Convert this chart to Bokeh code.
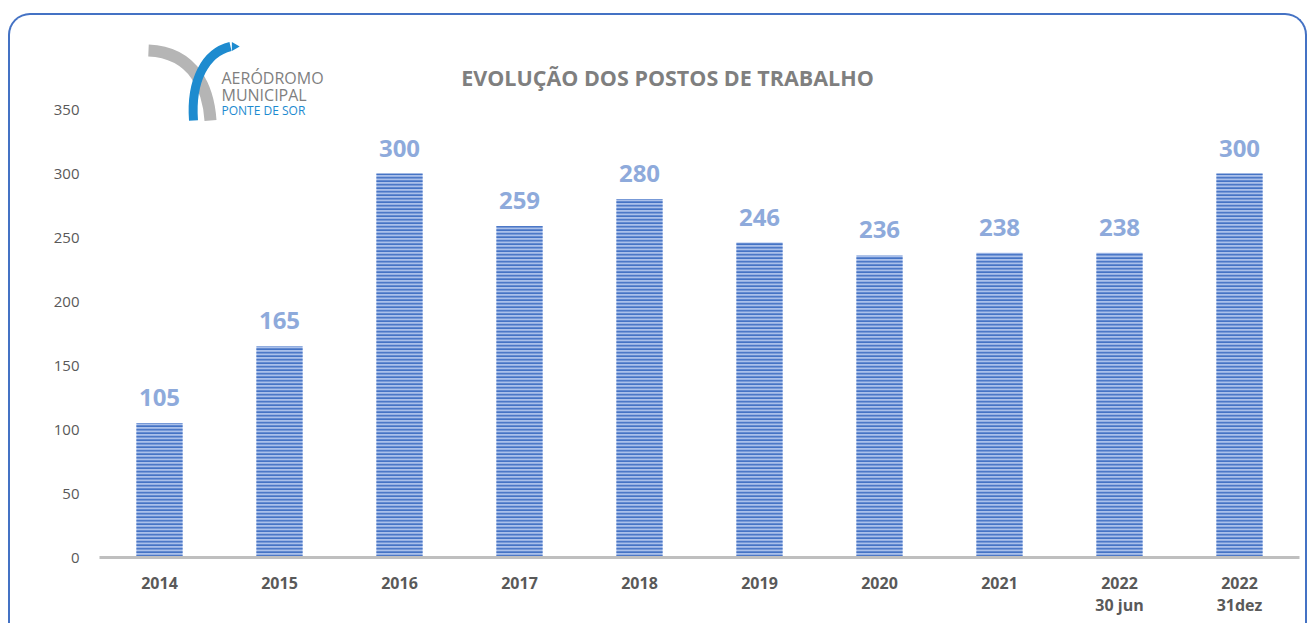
from bokeh.plotting import figure
from bokeh.models import FactorRange, Range1d, FixedTicker, Label, InlineStyleSheet
from bokeh.core.properties import value
from bokeh.embed import file_html
from bokeh.resources import INLINE

categories = ["2014", "2015", "2016", "2017", "2018", "2019", "2020", "2021", "2022\n30 jun", "2022\n31dez"]
jobs = [105, 165, 300, 259, 280, 246, 236, 238, 238, 300]
y_ticks = [0, 50, 100, 150, 200, 250, 300, 350]
title_text = "EVOLUÇÃO DOS POSTOS DE TRABALHO"

W, H = 1309, 623
ML, MR, MB, MT = 99, 10, 66, 0
PXU = 1.28
YMAX = 350 + 109 / PXU

p = figure(x_range=FactorRange(*categories, range_padding=0), y_range=Range1d(0, YMAX),
           width=W, height=H, output_backend="svg", toolbar_location=None,
           min_border_left=ML, min_border_right=MR, min_border_bottom=MB, min_border_top=MT)
p.outline_line_color = None
p.xgrid.visible = False
p.ygrid.visible = False

# rounded chart border (pure CSS overlay, does not affect layout); letter-spaced title
p.stylesheets = [InlineStyleSheet(css="""
:host::after {
  content: ''; position: absolute; left: 8px; top: 13px; width: 1299px; height: 610px;
  box-sizing: border-box; border: 2px solid #4472c4; border-bottom: none;
  border-radius: 22px 22px 0 0; pointer-events: none; z-index: 10;
}
text[font-size="21.5px"] { letter-spacing: 3.2px; }
""")]

p.vbar(x=categories, top=jobs, width=0.385, fill_color="#aac0ea", line_color=None,
       hatch_pattern="horizontal_line", hatch_color="#4472c4", hatch_scale=3.5, hatch_weight=1.8)

p.text(x=categories, y=jobs, text=[str(v) for v in jobs], y_offset=-17,
       text_align="center", text_baseline="bottom", text_color="#8eaadb",
       text_font=value("Open Sans"), text_font_size="24px", text_font_style="bold")

# axes
p.xaxis.axis_line_color = "#bfbfbf"
p.xaxis.axis_line_width = 3
p.xaxis.major_tick_line_color = None
p.xaxis.minor_tick_line_color = None
p.xaxis.major_label_text_font = "Open Sans"
p.xaxis.major_label_text_font_size = "16px"
p.xaxis.major_label_text_font_style = "bold"
p.xaxis.major_label_text_color = "#595959"
p.xaxis.major_label_text_line_height = 1.0
p.xaxis.major_label_standoff = 8

p.yaxis.ticker = FixedTicker(ticks=y_ticks)
p.yaxis.axis_line_color = None
p.yaxis.major_tick_line_color = None
p.yaxis.minor_tick_line_color = None
p.yaxis.major_label_text_font = "Open Sans"
p.yaxis.major_label_text_font_size = "15px"
p.yaxis.major_label_text_color = "#595959"
p.yaxis.major_label_standoff = 14

# helpers: page pixel -> data coords (decoration only)
def dx(px):
    return (px - ML) / 120.0

def dy(py):
    return YMAX - py / PXU

# title
p.add_layout(Label(x=dx(667), y=dy(77), text=title_text, text_align="center", text_baseline="middle",
                   text_font="Open Sans", text_font_size="21.5px", text_font_style="bold",
                   text_color="#7f7f7f"))

# logo
p.bezier(x0=[dx(148)], y0=[dy(50)], x1=[dx(210)], y1=[dy(120)],
         cx0=[dx(195)], cy0=[dy(52)], cx1=[dx(208)], cy1=[dy(90)],
         line_color="#b5b5b5", line_width=12)
p.bezier(x0=[dx(193)], y0=[dy(120)], x1=[dx(230)], y1=[dy(46)],
         cx0=[dx(190)], cy0=[dy(80)], cx1=[dx(205)], cy1=[dy(52)],
         line_color="#1e8bcf", line_width=9)
p.triangle(x=[dx(234)], y=[dy(46)], size=9, angle=-1.5708, fill_color="#1e8bcf", line_color=None)
for txt, py, col, fs in [("AERÓDROMO", 77, "#7f7f7f", "16px"), ("MUNICIPAL", 94, "#7f7f7f", "16px"),
                         ("PONTE DE SOR", 110, "#1c8ad0", "12px")]:
    p.add_layout(Label(x=dx(221), y=dy(py), text=txt, text_baseline="middle",
                       text_font="Open Sans", text_font_size=fs, text_color=col))

open("out.html", "w").write(file_html(p, INLINE))
